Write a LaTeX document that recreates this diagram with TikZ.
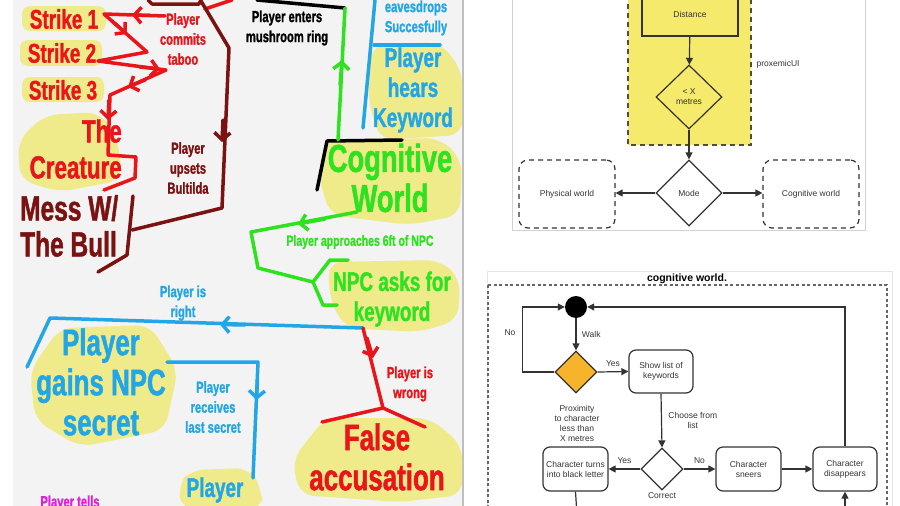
\documentclass[tikz,border=0pt]{standalone}
\usepackage{fontspec}
\setmainfont{Liberation Sans}
\newfontfamily\sketchfont[FakeStretch=0.7, FakeBold=1.2]{Liberation Sans}
\usetikzlibrary{shapes.geometric, arrows.meta}
\definecolor{hl}{HTML}{EFEB8A}
\definecolor{skred}{HTML}{E8151B}
\definecolor{skmaroon}{HTML}{7A1212}
\definecolor{skgreen}{HTML}{2EE21F}
\definecolor{skblue}{HTML}{22A6E6}
\definecolor{skpink}{HTML}{E11FE0}
\definecolor{paper}{HTML}{F3F3F3}
\definecolor{pxyellow}{HTML}{F6EA6C}
\definecolor{flowline}{HTML}{333333}
\definecolor{orangedia}{HTML}{F6B42C}
\begin{document}
\begin{tikzpicture}[
    x=1pt, y=-1pt,
    sk/.style={align=center, inner sep=0pt},
    hugetxt/.style={sk, font=\sketchfont\bfseries\fontsize{37}{40}\selectfont},
    bigtxt/.style={sk, font=\sketchfont\bfseries\fontsize{32}{36}\selectfont},
    midtxt/.style={sk, font=\sketchfont\bfseries\fontsize{27}{30}\selectfont},
    smalltxt/.style={sk, font=\sketchfont\bfseries\fontsize{16}{20}\selectfont},
    blob/.style={fill=hl, rounded corners=14pt},
    pen/.style={line width=3.5pt, line cap=round, line join=round},
    vtip/.style={-{Straight Barb[length=7pt,width=16pt]}},
    ftxt/.style={font=\fontsize{8.5}{10}\selectfont, text=flowline, align=center},
    flow/.style={draw=flowline, line width=1.2pt, -{Triangle[length=7pt,width=7pt]}},
    fline/.style={draw=flowline, line width=1.2pt},
    fbox/.style={ftxt, draw=flowline, line width=1.2pt, rounded corners=7pt,
      minimum width=64pt, minimum height=43pt, inner sep=1pt},
    fdia/.style={ftxt, diamond, draw=flowline, line width=1.2pt, inner sep=0pt},
    worldbox/.style={ftxt, draw=flowline, line width=1.2pt, rounded corners=9pt,
      dash pattern=on 5pt off 4pt, minimum width=96pt, minimum height=68pt}
  ]
  \useasboundingbox (0,0) rectangle (900,506);
  \clip (0,0) rectangle (900,506);

  % sketch paper
  \fill[paper] (13,0) rectangle (463,506);
  \draw[gray!50, line width=1.5pt] (463,0) -- (463,506);

  % highlights
  \fill[blob, rounded corners=8pt] (22,6) rectangle (106,31);
  \fill[blob, rounded corners=8pt] (20,40) rectangle (102,66);
  \fill[blob, rounded corners=8pt] (22,77) rectangle (104,102);
  \fill[blob] (45,115) -- (100,112) -- (118,140) -- (122,180) -- (60,192) -- (20,180) -- (18,140) -- cycle;
  \fill[blob] (372,45) -- (440,42) -- (462,70) -- (462,135) -- (380,140) -- (368,100) -- cycle;
  \fill[blob] (325,140) -- (440,138) -- (462,160) -- (460,215) -- (410,225) -- (330,215) -- (318,175) -- cycle;
  \fill[blob] (328,262) -- (440,260) -- (460,278) -- (458,320) -- (420,332) -- (345,328) -- (330,300) -- cycle;
  \fill[blob] (60,328) -- (150,325) -- (178,370) -- (165,430) -- (80,447) -- (35,420) -- (30,370) -- cycle;
  \fill[blob] (325,418) -- (430,418) -- (462,445) -- (462,495) -- (400,502) -- (300,495) -- (292,460) -- cycle;
  \fill[blob] (190,470) -- (250,468) -- (262,490) -- (262,510) -- (182,510) -- (178,485) -- cycle;

  % red strokes
  \draw[pen, skred] (165,16) -- (104,14) -- (147,52) -- (98,61) -- (166,70) -- (110,95)
    -- (108,155) -- (136,157) -- (135,178) -- (104,190);
  \draw[pen, skred, vtip] (150,15.5) -- (132,15);
  \draw[pen, skred, vtip] (112,21) -- (127,34);
  \draw[pen, skred, vtip] (140,67) -- (160,69);
  \draw[pen, skred, vtip] (145,80) -- (128,87);
  \draw[pen, skred, vtip] (109,100) -- (108,120);
  \draw[pen, skred] (205,9) -- (232,0);
  % maroon strokes
  \draw[pen, skmaroon] (148,0) -- (152,4) -- (199,4) -- (201,0);
  \draw[pen, skmaroon] (201,1) -- (229,48) -- (222,208) -- (132,230);
  \draw[pen, skmaroon] (133,196) -- (127,255) -- (98,272);
  \draw[pen, skmaroon, vtip] (223,120) -- (222,142);
  % black strokes
  \draw[pen, black] (257,0) -- (345,8);
  \draw[pen, black] (402,140) -- (327,141) -- (317,190);
  % green strokes
  \draw[pen, skgreen] (345,8) -- (338,140);
  \draw[pen, skgreen, vtip] (340,85) -- (342,60);
  \draw[pen, skgreen] (357,212) -- (251,232) -- (258,268) -- (313,282);
  \draw[pen, skgreen, vtip] (325,219) -- (298,224);
  \draw[pen, skgreen] (348,260) -- (330,260) -- (313,282) -- (323,305) -- (337,305);
  % blue strokes
  \draw[pen, skblue] (375,0) -- (363,128);
  \draw[pen, skblue] (374,45) -- (440,45);
  \draw[pen, skblue] (363,328) -- (50,318) -- (27,367);
  \draw[pen, skblue, vtip] (245,325) -- (220,324.5);
  \draw[pen, skblue] (167,362) -- (258,362) -- (253,478);
  \draw[pen, skblue, vtip] (257.5,380) -- (256.5,400);
  % red "wrong" strokes
  \draw[pen, skred] (363,328) -- (383,408) -- (322,422);
  \draw[pen, skred] (383,408) -- (425,427);
  \draw[pen, skred, vtip] (367,338) -- (373,358);

  % sketch texts
  \node[midtxt, text=skred] (strike1) at (64,19) {Strike 1};
  \node[midtxt, text=skred] (strike2) at (62,53) {Strike 2};
  \node[midtxt, text=skred] (strike3) at (63,90) {Strike 3};
  \node[bigtxt, text=skred, align=right, anchor=east] (creature) at (122,149) {The\\Creature};
  \node[bigtxt, text=skmaroon, align=left, anchor=west,
    font=\sketchfont\bfseries\fontsize{35}{36}\selectfont] (bull) at (20,226) {Mess W/\\The Bull};
  \node[smalltxt, text=skred] (taboo) at (183,39) {Player\\commits\\taboo};
  \node[smalltxt, text=skmaroon] (upsets) at (188,168) {Player\\upsets\\Bultilda};
  \node[smalltxt, text=black] (enters) at (287,28) {Player enters\\mushroom ring};
  \node[smalltxt, text=skblue] (eaves) at (416,18) {eavesdrops\\Succesfully};
  \node[midtxt, text=skblue] (hears) at (413,90) {Player\\hears\\Keyword};
  \node[hugetxt, text=skgreen, font=\sketchfont\bfseries\fontsize{39}{40}\selectfont] (cogworld) at (390,178) {Cognitive\\World};
  \node[smalltxt, text=skgreen, font=\sketchfont\bfseries\fontsize{15}{18}\selectfont] (approach) at (360,242) {Player approaches 6ft of NPC};
  \node[midtxt, text=skgreen] (asks) at (392,299) {NPC asks for\\keyword};
  \node[smalltxt, text=skblue] (isright) at (183,303) {Player is\\right};
  \node[hugetxt, text=skblue] (gains) at (101,382) {Player\\gains NPC\\secret};
  \node[smalltxt, text=skblue] (receives) at (213,407) {Player\\receives\\last secret};
  \node[smalltxt, text=skred] (iswrong) at (410,384) {Player is\\wrong};
  \node[hugetxt, text=skred] (false) at (377,457) {False\\accusation};
  \node[midtxt, text=skblue] (player) at (215,490) {Player};
  \node[smalltxt, text=skpink] (tells) at (70,503) {Player tells};

  % proxemic flow
  \draw[gray!35, line width=1pt] (512,-5) rectangle (865,230);
  \draw[fill=pxyellow, draw=black!70, line width=1.5pt, dash pattern=on 5pt off 4pt] (628,-5) rectangle (751,145);
  \node[ftxt, draw=flowline, line width=1.4pt, minimum width=96pt, minimum height=44pt] (dist) at (690,14) {Distance};
  \node[fdia, fill=pxyellow, minimum width=66pt, minimum height=64pt] (xdia) at (689,97) {< X\\metres};
  \node[fdia, fill=white, minimum width=66pt, minimum height=66pt] (mode) at (689,193) {Mode};
  \node[worldbox] (phys) at (567,194) {Physical world};
  \node[worldbox] (cogw) at (811,194) {Cognitive world};
  \node[ftxt, anchor=west] (proxui) at (753,64) {proxemicUI};
  \draw[flow] (dist) -- (xdia);
  \draw[flow] (xdia) -- (mode);
  \draw[flow] (mode.west) -- (mode.west -| phys.east);
  \draw[flow] (mode.east) -- (mode.east -| cogw.west);

  % cognitive world flow
  \draw[gray!20, line width=1pt] (487,271) rectangle (892,520);
  \node[font=\bfseries\fontsize{10.5}{12}\selectfont] (title) at (687,279) {cognitive world.};
  \draw[gray!80!black, line width=1.2pt, dash pattern=on 3pt off 2.5pt] (488,285) rectangle (887,520);
  \node[circle, fill=black, minimum size=22pt, inner sep=0pt] (start) at (576,307) {};
  \node[fdia, fill=orangedia, minimum width=42pt, minimum height=42pt] (prox) at (576,372) {};
  \node[ftxt, anchor=north] (proxlbl) at (577,402) {Proximity\\to character\\less than\\X metres};
  \node[fbox] (keys) at (661,371.5) {Show list of\\keywords};
  \node[fdia, minimum width=42pt, minimum height=42pt] (correct) at (662,469) {};
  \node[ftxt] (correctlbl) at (662,496) {Correct};
  \node[fbox, minimum width=65pt, minimum height=44pt] (black) at (575.5,469) {Character turns\\into black letter};
  \node[fbox, minimum width=65pt, minimum height=44pt] (sneers) at (748.5,469) {Character\\sneers};
  \node[fbox, minimum width=64pt, minimum height=44pt] (gone) at (845,469) {Character\\disappears};
  \coordinate (blackend) at (577,515);
  \coordinate (goneend) at (845,515);
  \draw[flow] (start) -- node[ftxt, right=2pt] {Walk} (prox);
  \draw[flow] (prox.west) -- ++(-32,0) coordinate (loopc) |- node[ftxt, pos=0.3, left=3pt] {No} (start.west);
  \draw[flow] (prox.east) -- node[ftxt, above=1pt] {Yes} (keys.west);
  \draw[flow] (keys.south) -- node[ftxt, right=3pt] {Choose from\\list} (correct.north);
  \draw[flow] (correct.west) -- node[ftxt, above=1pt] {Yes} (black.east);
  \draw[flow] (correct.east) -- node[ftxt, above=1pt] {No} (sneers.west);
  \draw[flow] (sneers) -- (gone);
  \draw[flow] (gone.north) |- (start.east);
  \draw[fline] (black.south) -- (blackend);
  \draw[flow] (goneend) -- (gone.south);
\end{tikzpicture}
\end{document}
